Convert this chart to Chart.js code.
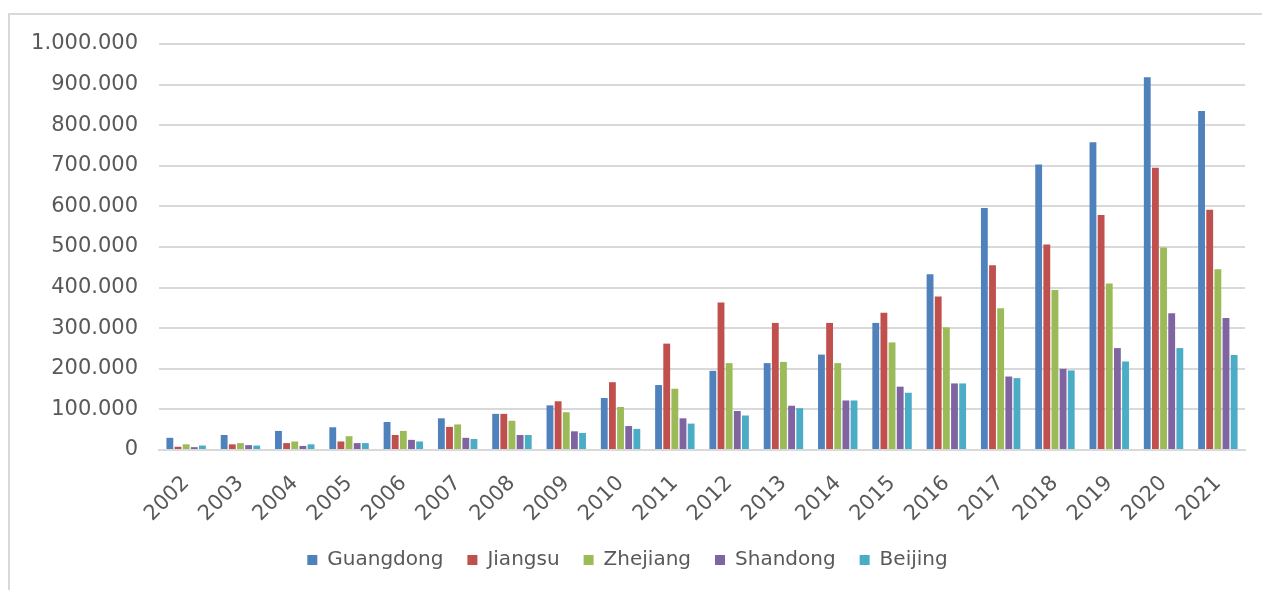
<!DOCTYPE html>
<html>
<head>
<meta charset="utf-8">
<script src="https://cdn.jsdelivr.net/npm/chart.js@4/dist/chart.umd.min.js"></script>
<style>
  html, body { margin: 0; padding: 0; background: #fff; }
  #wrap { position: relative; width: 1262px; height: 590px; }
</style>
</head>
<body>
<div id="wrap"><canvas id="chart"></canvas></div>
<script>
// ── Data ───────────────────────────────────────────────────
const years = ['2002', '2003', '2004', '2005', '2006', '2007', '2008', '2009', '2010', '2011',
               '2012', '2013', '2014', '2015', '2016', '2017', '2018', '2019', '2020', '2021'];

const guangdong = [30000, 37000, 47000, 56000, 69000, 78000, 89000, 110000, 128000, 160000,
                   195000, 214000, 235000, 313000, 433000, 596000, 703000, 758000, 918000, 835000];
const jiangsu   = [8000, 14000, 17000, 21000, 37000, 57000, 89000, 120000, 167000, 262000,
                   363000, 313000, 313000, 338000, 378000, 455000, 506000, 579000, 695000, 592000];
const zhejiang  = [14000, 17000, 21000, 34000, 47000, 63000, 72000, 93000, 106000, 151000,
                   214000, 217000, 214000, 265000, 302000, 349000, 394000, 410000, 499000, 445000];
const shandong  = [7000, 12000, 10000, 17000, 25000, 30000, 37000, 46000, 59000, 78000,
                   96000, 109000, 122000, 156000, 164000, 181000, 200000, 251000, 337000, 325000];
const beijing   = [11000, 11000, 14000, 17000, 21000, 27000, 37000, 42000, 52000, 65000,
                   85000, 103000, 122000, 141000, 164000, 177000, 196000, 218000, 251000, 234000];

// Excel 2007 palette
const C = {
    blue:   '#4f81bd',
    red:    '#c0504d',
    green:  '#9bbb59',
    purple: '#8064a2',
    cyan:   '#4bacc6',
    grid:   '#d9d9d9',
    text:   '#595959',
};

const FONT = '"DejaVu Sans", Verdana, sans-serif';

// thousands separated with dots: 1.000.000
const dotted = v => String(v).replace(/\B(?=(\d{3})+(?!\d))/g, '.');

// light frame on top and left, like the pasted Excel chart
const framePlugin = {
    id: 'frame',
    beforeDraw(chart) {
        const ctx = chart.ctx;
        ctx.save();
        ctx.strokeStyle = C.grid;
        ctx.lineWidth = 2;
        ctx.beginPath();
        ctx.moveTo(9, 590);
        ctx.lineTo(9, 14);
        ctx.lineTo(1262, 14);
        ctx.stroke();
        ctx.restore();
    }
};

const mk = (label, data, color) => ({
    label,
    data,
    backgroundColor: color,
    borderWidth: 0,
    categoryPercentage: 0.75,
    barPercentage: 0.84
});

new Chart(document.getElementById('chart'), {
    type: 'bar',
    data: {
        labels: years,
        datasets: [
            mk('Guangdong', guangdong, C.blue),
            mk('Jiangsu',   jiangsu,   C.red),
            mk('Zhejiang',  zhejiang,  C.green),
            mk('Shandong',  shandong,  C.purple),
            mk('Beijing',   beijing,   C.cyan)
        ]
    },
    options: {
        responsive: true,
        maintainAspectRatio: false,
        animation: false,
        devicePixelRatio: 1,
        layout: { padding: { left: 10, top: 44, right: 17, bottom: 10 } },
        plugins: {
            legend: {
                position: 'bottom',
                labels: {
                    color: C.text,
                    font: { family: FONT, size: 20 },
                    boxWidth: 10,
                    boxHeight: 10,
                    padding: 24
                }
            },
            tooltip: { enabled: false }
        },
        scales: {
            x: {
                grid: { display: false, drawTicks: false },
                border: { color: C.grid, width: 2 },
                ticks: {
                    color: C.text,
                    font: { family: FONT, size: 21 },
                    maxRotation: 45,
                    minRotation: 45,
                    padding: 21
                },
                afterFit(scale) { scale.height = 76; }
            },
            y: {
                min: 0,
                max: 1000000,
                grid: { color: C.grid, lineWidth: 2, drawTicks: false },
                border: { display: false },
                ticks: {
                    stepSize: 100000,
                    color: C.text,
                    font: { family: FONT, size: 21 },
                    padding: 21,
                    callback: v => dotted(v)
                },
                afterFit(scale) { scale.width = 149; }
            }
        }
    },
    plugins: [framePlugin]
});
</script>
</body>
</html>
